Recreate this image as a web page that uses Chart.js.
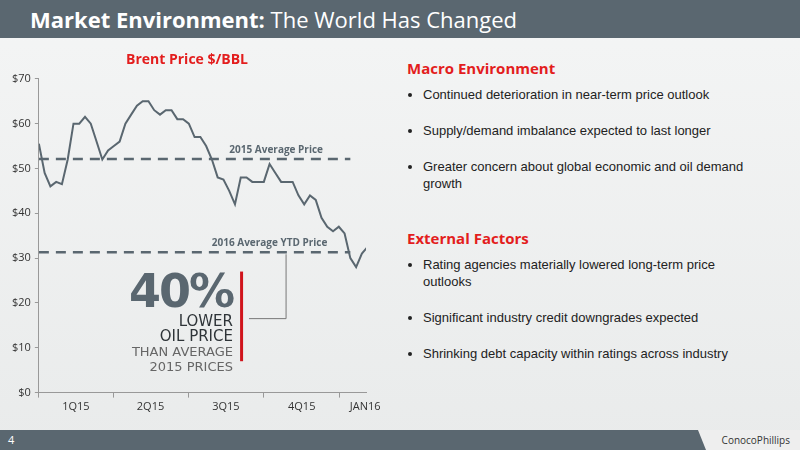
<!DOCTYPE html>
<html>
<head>
<meta charset="utf-8">
<script src="https://cdn.jsdelivr.net/npm/chart.js@4"></script>
<style>
  body { margin: 0; width: 800px; height: 450px; overflow: hidden; font-family: "Open Sans", "DejaVu Sans", sans-serif; }
  #slide { position: relative; width: 800px; height: 450px; background: linear-gradient(#f4f5f5, #e9ebeb); }
  #head { position: absolute; left: 0; top: 0; width: 800px; height: 38px; background: #5a6770; color: #fff; font-size: 22px; line-height: 38px; }
  #head span { margin-left: 30px; }
  #foot { position: absolute; left: 0; top: 430px; width: 800px; height: 20px; background: #5a6770; }
  #foot .num { position: absolute; left: 8px; top: 2px; color: #fff; font-size: 11px; }
  #foot .logo { position: absolute; right: 0; top: 0; width: 110px; height: 20px; background: #eeeeee; clip-path: polygon(8px 0, 110px 0, 110px 20px, 16px 20px); font-size: 10px; color: #333; text-align: right; line-height: 20px; padding-right: 10px; box-sizing: border-box; }
  #chartwrap { position: absolute; left: 0; top: 42px; width: 392px; height: 378px; }
  #right { position: absolute; left: 407px; top: 58px; width: 340px; color: #222; font-size: 13px; font-family: "Liberation Sans", sans-serif; }
  #right h3 { color: #e31d1d; font-size: 15px; margin: 0 0 8px 0; font-family: "Open Sans", sans-serif; }
  #right ul { margin: 0; padding-left: 16px; }
  #right li { margin-bottom: 19px; line-height: 17px; }
  #call { position: absolute; left: 97px; top: 268px; width: 136px; text-align: right; color: #2e3438; font-family: "DejaVu Sans", sans-serif; }
  #call .big { font-size: 46px; font-weight: bold; color: #5a6770; line-height: 46px; letter-spacing: -2px; }
  #call .l { font-size: 15px; line-height: 15px; }
  #call .t { font-size: 13px; line-height: 15px; color: #666; }
</style>
</head>
<body>
<div id="slide">
  <div id="head"><span><b>Market Environment:</b> The World Has Changed</span></div>
  <div id="chartwrap"><canvas id="brent"></canvas></div>
  <div id="call">
    <div class="big">40%</div>
    <div class="l">LOWER</div>
    <div class="l">OIL PRICE</div>
    <div class="t">THAN AVERAGE</div>
    <div class="t">2015 PRICES</div>
  </div>
  <div id="right">
    <h3>Macro Environment</h3>
    <ul>
      <li>Continued deterioration in near-term price outlook</li>
      <li>Supply/demand imbalance expected to last longer</li>
      <li>Greater concern about global economic and oil demand growth</li>
    </ul>
    <h3 style="margin-top:36px">External Factors</h3>
    <ul>
      <li>Rating agencies materially lowered long-term price outlooks</li>
      <li>Significant industry credit downgrades expected</li>
      <li>Shrinking debt capacity within ratings across industry</li>
    </ul>
  </div>
  <div id="foot"><span class="num">4</span><div class="logo">ConocoPhillips</div></div>
</div>
<script>
// weekly Brent prices, Jan 2015 - Jan 2016 (day index from 1 Jan 2015)
const brent = [55.5, 49, 46, 47, 46.5, 52, 60, 60, 61.5, 60, 56, 52, 54, 55, 56, 60, 62, 64, 65, 65,
  63, 62, 63, 63, 61, 61, 60, 57, 57, 55, 52, 48, 47.5, 45, 42, 48, 48, 47, 47, 47,
  51, 49, 47, 47, 47, 44, 42, 44, 43, 39, 37, 36, 37, 35.5, 30, 28, 31, 32.5];
const avg2015 = 52.1;
const avg2016 = 31.3;
const quarterTicks = [0, 90, 181, 273, 365];
const quarterLabels = ["1Q15", "2Q15", "3Q15", "4Q15", "JAN16"];
const yTicks = [0, 10, 20, 30, 40, 50, 60, 70];

const pricePoints = brent.map((v, i) => ({ x: i * 7, y: v }));
const grey = "#5a6770";

const overlay = {
  id: "overlay",
  afterDraw(chart) {
    const { ctx, scales: { x, y } } = chart;
    ctx.save();
    ctx.fillStyle = "#333";
    ctx.font = "11px 'Open Sans', sans-serif";
    ctx.textAlign = "center";
    for (let i = 0; i < 4; i++) {
      ctx.fillText(quarterLabels[i], x.getPixelForValue((quarterTicks[i] + quarterTicks[i + 1]) / 2), y.bottom + 17);
    }
    ctx.fillText(quarterLabels[4], x.getPixelForValue(396), y.bottom + 17);
    ctx.fillStyle = "#5a6770";
    ctx.font = "bold 10px 'Open Sans', sans-serif";
    ctx.fillText("2015 Average Price", x.getPixelForValue(288), y.getPixelForValue(avg2015) - 6);
    ctx.fillText("2016 Average YTD Price", x.getPixelForValue(280), y.getPixelForValue(avg2016) - 6);
    // callout connector
    const cx = x.getPixelForValue(300);
    ctx.strokeStyle = "#777";
    ctx.lineWidth = 1;
    ctx.beginPath();
    ctx.moveTo(cx, y.getPixelForValue(avg2016) + 2);
    ctx.lineTo(cx, y.getPixelForValue(16.5));
    ctx.lineTo(x.getPixelForValue(255), y.getPixelForValue(16.5));
    ctx.stroke();
    ctx.strokeStyle = "#d0141c";
    ctx.lineWidth = 3;
    ctx.beginPath();
    ctx.moveTo(x.getPixelForValue(246), y.getPixelForValue(27));
    ctx.lineTo(x.getPixelForValue(246), y.getPixelForValue(7));
    ctx.stroke();
    ctx.restore();
  }
};

new Chart(document.getElementById("brent"), {
  type: "line",
  data: {
    datasets: [
      { data: pricePoints, borderColor: grey, borderWidth: 2, pointRadius: 0, tension: 0 },
      { data: [{ x: 0, y: avg2015 }, { x: 378, y: avg2015 }], borderColor: grey, borderWidth: 2.5, borderDash: [10, 7], pointRadius: 0 },
      { data: [{ x: 0, y: avg2016 }, { x: 378, y: avg2016 }], borderColor: grey, borderWidth: 2.5, borderDash: [10, 7], pointRadius: 0 }
    ]
  },
  options: {
    responsive: true,
    maintainAspectRatio: false,
    animation: false,
    layout: { padding: { left: 8, right: 26, top: 0, bottom: 8 } },
    plugins: {
      legend: { display: false },
      tooltip: { enabled: false },
      title: { display: true, text: "Brent Price $/BBL", color: "#e31d1d", font: { size: 14, weight: "bold", family: "'Open Sans', sans-serif" }, padding: { top: 10, bottom: 10 } }
    },
    scales: {
      x: {
        type: "linear", min: 0, max: 397,
        afterBuildTicks: s => { s.ticks = quarterTicks.map(v => ({ value: v })); },
        ticks: { callback: () => "", padding: 0 },
        grid: { drawOnChartArea: false, tickLength: 5, color: "#999" },
        border: { color: "#999" }
      },
      y: {
        min: 0, max: 70,
        afterBuildTicks: s => { s.ticks = yTicks.map(v => ({ value: v })); },
        ticks: { callback: v => "$" + v, color: "#333", font: { size: 11, family: "'Open Sans', sans-serif" }, padding: 4 },
        grid: { drawOnChartArea: false, tickLength: 4, color: "#999" },
        border: { color: "#999" }
      }
    }
  },
  plugins: [overlay]
});
</script>
</body>
</html>
